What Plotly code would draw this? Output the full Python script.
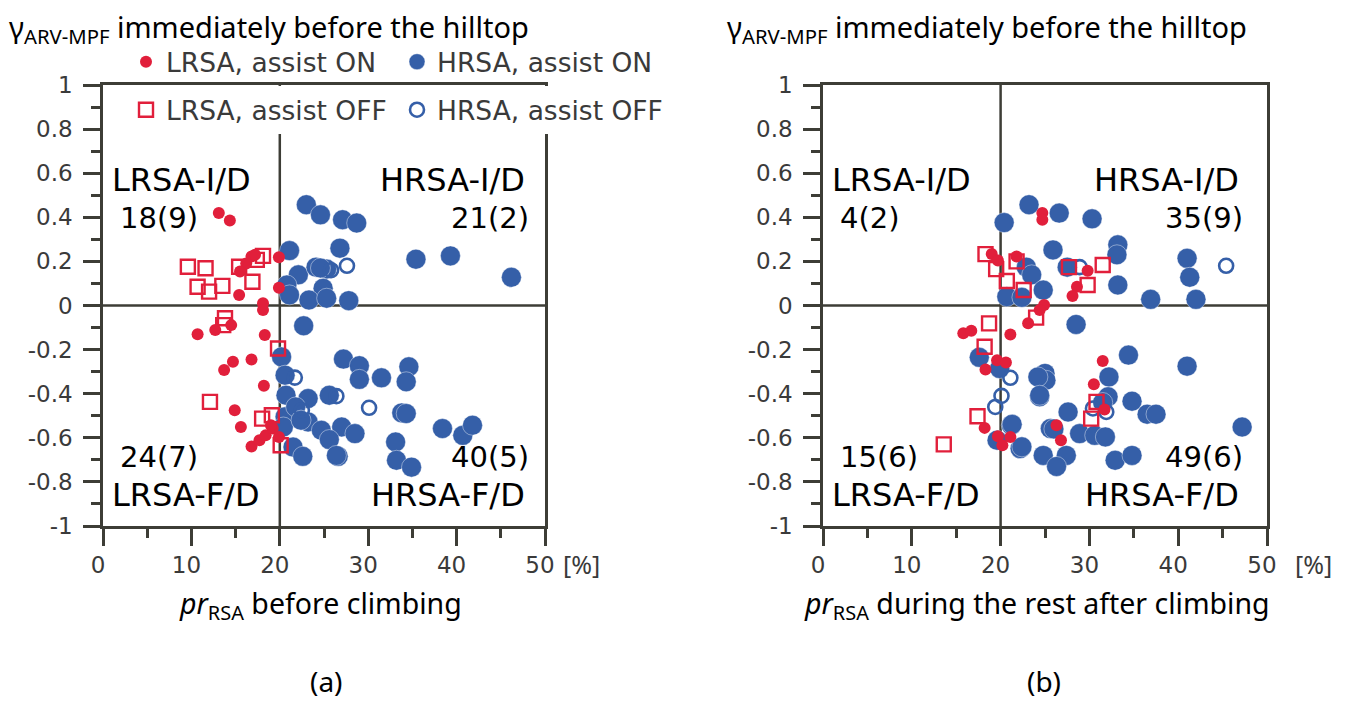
import plotly.graph_objects as go

# ---------------- data ----------------
# Panel (a): pr_RSA before climbing [%] vs gamma
a_lrsa_on_x = [13.1, 14.35, 16.8, 16.2, 17.2, 15.5, 15.4, 18.1, 19.9, 19.9,
               18.1, 14.5, 12.7, 10.7, 18.3, 14.7, 13.7, 16.8, 18.2, 14.9,
               15.6, 16.8, 17.7, 18.4, 19.2, 19.9, 19.0]
a_lrsa_on_y = [0.419, 0.385, 0.222, 0.19, 0.23, 0.154, 0.048, 0.01, 0.219, 0.081,
               -0.02, -0.089, -0.111, -0.13, -0.134, -0.255, -0.293, -0.245, -0.364, -0.475,
               -0.551, -0.639, -0.611, -0.589, -0.558, -0.596, -0.543]

a_lrsa_off_x = [9.6, 11.6, 10.7, 12.0, 13.5, 15.4, 16.9, 18.1, 17.4,
                13.8, 13.6, 19.8, 12.1, 18.0, 19.1, 20.1]
a_lrsa_off_y = [0.176, 0.169, 0.085, 0.063, 0.089, 0.176, 0.108, 0.225, 0.207,
                -0.058, -0.089, -0.195, -0.437, -0.513, -0.498, -0.634]

a_hrsa_on_x = [23.0, 24.6, 27.1, 28.7, 21.1, 26.8, 35.4, 39.3, 46.2, 22.1,
               24.1, 25.3, 24.9, 20.8, 21.1, 23.3, 25.3, 27.8, 24.6,
               22.7, 20.2, 27.2, 29.0, 29.0, 31.5, 34.6, 34.3, 20.6, 25.6,
               20.7, 23.2, 20.6, 23.2, 20.4, 24.7, 27.0, 28.5, 25.6, 33.8,
               34.3, 38.4, 40.7, 41.8, 33.1, 21.5, 22.6, 26.6, 33.2, 34.9,
               21.8, 22.4, 26.4]
a_hrsa_on_y = [0.457, 0.411, 0.389, 0.374, 0.249, 0.26, 0.21, 0.225, 0.128, 0.139,
               0.174, 0.165, 0.078, 0.093, 0.048, 0.025, 0.033, 0.022, 0.17,
               -0.092, -0.233, -0.243, -0.273, -0.335, -0.328, -0.278, -0.346, -0.316, -0.407,
               -0.407, -0.422, -0.505, -0.528, -0.551, -0.566, -0.551, -0.581, -0.608, -0.487,
               -0.49, -0.558, -0.589, -0.543, -0.619, -0.642, -0.684, -0.684, -0.702, -0.733,
               -0.46, -0.52, -0.68]

a_hrsa_off_x = [27.6, 25.8, 21.7, 26.4, 30.1, 22.5]
a_hrsa_off_y = [0.18, 0.16, -0.327, -0.411, -0.464, -0.475]

# Panel (b): pr_RSA during the rest after climbing [%] vs gamma
b_lrsa_on_x = [24.7, 24.7, 19.0, 19.7, 21.8, 29.8, 28.6, 28.1, 24.9, 24.4,
               23.1, 21.1, 31.5, 30.5, 31.7, 26.3, 26.8, 15.8, 16.7, 19.6,
               20.6, 18.3, 18.2, 19.7, 21.1, 20.2]
b_lrsa_on_y = [0.419, 0.389, 0.234, 0.204, 0.222, 0.158, 0.085, 0.043, 0.002, -0.02,
               -0.081, -0.131, -0.252, -0.357, -0.472, -0.543, -0.611, -0.126, -0.114, -0.248,
               -0.258, -0.29, -0.555, -0.593, -0.596, -0.634]

b_lrsa_off_x = [18.3, 19.5, 21.8, 22.6, 20.7, 27.7, 31.5, 29.8, 24.0, 18.7,
                18.2, 17.4, 13.6, 30.8, 30.2]
b_lrsa_off_y = [0.233, 0.165, 0.2, 0.07, 0.111, 0.174, 0.184, 0.093, -0.055, -0.081,
                -0.187, -0.502, -0.63, -0.437, -0.513]

b_hrsa_on_x = [23.2, 20.4, 26.6, 30.3, 25.9, 33.2, 33.1, 41.0, 41.3, 33.2,
               36.9, 42.0, 27.5, 22.9, 23.5, 24.8, 20.7, 22.4, 28.5, 34.4,
               41.0, 25.0, 25.1, 32.2, 24.4, 32.1, 34.8, 36.5, 37.5, 47.2,
               50.9, 27.6, 25.6, 28.9, 30.6, 31.8, 24.8, 27.4, 26.3, 32.9,
               34.8, 22.2, 21.2, 17.6, 19.9, 24.2, 24.4, 21.3, 19.6, 22.4,
               26.0, 31.5]
b_hrsa_on_y = [0.457, 0.376, 0.419, 0.393, 0.252, 0.275, 0.23, 0.214, 0.128, 0.093,
               0.028, 0.028, 0.174, 0.174, 0.139, 0.07, 0.04, 0.037, -0.086, -0.225,
               -0.275, -0.308, -0.339, -0.324, -0.414, -0.414, -0.434, -0.493, -0.493, -0.551,
               -0.33, -0.483, -0.558, -0.581, -0.589, -0.596, -0.68, -0.68, -0.73, -0.702,
               -0.68, -0.649, -0.543, -0.235, -0.286, -0.324, -0.407, -0.539, -0.611, -0.641,
               -0.56, -0.44]

b_hrsa_off_x = [45.4, 28.9, 21.1, 20.1, 19.4, 30.4, 31.9]
b_hrsa_off_y = [0.18, 0.174, -0.328, -0.41, -0.46, -0.467, -0.483]

# axes ticks
x_tickvals = [0, 10, 20, 30, 40, 50]
x_ticktext = ["0", "10", "20", "30", "40", "50"]
y_tickvals = [1, 0.8, 0.6, 0.4, 0.2, 0, -0.2, -0.4, -0.6, -0.8, -1]
y_ticktext = ["1", "0.8", "0.6", "0.4", "0.2", "0", "-0.2", "-0.4", "-0.6", "-0.8", "-1"]

# quadrant labels: names and counts per panel (I/D upper, F/D lower)
a_quad_names = ["LRSA-I/D", "HRSA-I/D", "LRSA-F/D", "HRSA-F/D"]
a_quad_counts = ["18(9)", "21(2)", "24(7)", "40(5)"]
b_quad_names = ["LRSA-I/D", "HRSA-I/D", "LRSA-F/D", "HRSA-F/D"]
b_quad_counts = ["4(2)", "35(9)", "15(6)", "49(6)"]

legend_names = ["LRSA, assist ON", "HRSA, assist ON", "LRSA, assist OFF", "HRSA, assist OFF"]

# ---------------- styling ----------------
# the page body adds an 8px margin; positions below are given in window pixels
OFF = 8
W, H = 1340, 695
def PX(p): return (p - OFF) / W
def PY(p): return 1 - (p - OFF) / H

RED = "#e11f3b"
BLUE = "#355fa8"
AX = "#3d3d36"
TXT = "#3a3a3a"
TICKFONT = dict(family="DejaVu Sans", size=23, color=TXT)
QNAMEFONT = dict(family="DejaVu Sans", size=32, color="black")
QNUMFONT = dict(family="DejaVu Sans", size=29, color="black")
TFONT = dict(family="Noto Sans", size=29, color="black")
XTFONT = dict(family="Noto Sans", size=28.5, color="black")
PANELFONT = dict(family="Noto Sans", size=28, color="black")

fig = go.Figure()

def add_panel(xa, ya, lon, loff, hon, hoff, show):
    fig.add_trace(go.Scatter(x=hon[0], y=hon[1], mode="markers", xaxis=xa, yaxis=ya,
                             name=legend_names[1], legend="legend2", showlegend=show,
                             marker=dict(symbol="circle", size=20, color=BLUE,
                                         line=dict(width=0.6, color="rgba(255,255,255,0.7)")),
                             cliponaxis=False))
    fig.add_trace(go.Scatter(x=hoff[0], y=hoff[1], mode="markers", xaxis=xa, yaxis=ya,
                             name=legend_names[3], legend="legend4", showlegend=show,
                             marker=dict(symbol="circle-open", size=14, color=BLUE,
                                         line=dict(width=2.6, color=BLUE)),
                             cliponaxis=False))
    fig.add_trace(go.Scatter(x=loff[0], y=loff[1], mode="markers", xaxis=xa, yaxis=ya,
                             name=legend_names[2], legend="legend3", showlegend=show,
                             marker=dict(symbol="square-open", size=14, color=RED,
                                         line=dict(width=2.4, color=RED)),
                             cliponaxis=False))
    fig.add_trace(go.Scatter(x=lon[0], y=lon[1], mode="markers", xaxis=xa, yaxis=ya,
                             name=legend_names[0], legend="legend", showlegend=show,
                             marker=dict(symbol="circle", size=12, color=RED, line=dict(width=0)),
                             cliponaxis=False))

add_panel("x", "y", (a_lrsa_on_x, a_lrsa_on_y), (a_lrsa_off_x, a_lrsa_off_y),
          (a_hrsa_on_x, a_hrsa_on_y), (a_hrsa_off_x, a_hrsa_off_y), True)
add_panel("x2", "y2", (b_lrsa_on_x, b_lrsa_on_y), (b_lrsa_off_x, b_lrsa_off_y),
          (b_hrsa_on_x, b_hrsa_on_y), (b_hrsa_off_x, b_hrsa_off_y), False)

def xaxis(domain, anchor):
    return dict(domain=domain, anchor=anchor, range=[0, 50], tickmode="array",
                tickvals=x_tickvals, ticktext=x_ticktext, ticks="outside", ticklen=17,
                tickwidth=2.5, tickcolor=AX, showline=True, linecolor=AX, linewidth=2.5,
                mirror=True, showgrid=False, zeroline=False, tickfont=TICKFONT,
                automargin=False, ticklabelshift=-5,
                minor=dict(tick0=0, dtick=5, ticks="outside", ticklen=9, tickwidth=2.5,
                           tickcolor=AX, showgrid=False))

def yaxis(domain, anchor):
    return dict(domain=domain, anchor=anchor, range=[-1, 1], tickmode="array",
                tickvals=y_tickvals, ticktext=y_ticktext, ticks="outside", ticklen=17,
                tickwidth=2.5, tickcolor=AX, showline=True, linecolor=AX, linewidth=2.5,
                mirror=True, showgrid=False, zeroline=False, tickfont=TICKFONT,
                automargin=False, ticklabelstandoff=6,
                minor=dict(tick0=0, dtick=0.1, ticks="outside", ticklen=9, tickwidth=2.5,
                           tickcolor=AX, showgrid=False))

ydom = [PY(526), PY(85)]
legend_base = dict(orientation="h", xanchor="left", yanchor="middle", borderwidth=0,
                   font=dict(family="DejaVu Sans", size=26.5, color=TXT), itemsizing="trace")

fig.update_layout(
    width=W, height=H, autosize=False,
    margin=dict(l=0, r=0, t=0, b=0, pad=0, autoexpand=False),
    paper_bgcolor="white", plot_bgcolor="white",
    xaxis=xaxis([PX(103), PX(545)], "y"),
    yaxis=yaxis(ydom, "x"),
    xaxis2=xaxis([PX(823), PX(1267)], "y2"),
    yaxis2=yaxis(ydom, "x2"),
    legend=dict(legend_base, x=PX(126), y=PY(62), bgcolor="rgba(0,0,0,0)"),
    legend2=dict(legend_base, x=PX(397), y=PY(62), bgcolor="rgba(0,0,0,0)"),
    legend3=dict(legend_base, x=PX(126), y=PY(110), bgcolor="white"),
    legend4=dict(legend_base, x=PX(397), y=PY(110), bgcolor="white"),
)

shapes = []
for xr, yr in (("x", "y"), ("x2", "y2")):
    shapes.append(dict(type="line", xref=xr, yref=yr, x0=20, x1=20, y0=-1, y1=1,
                       line=dict(color=AX, width=2.5), layer="below"))
    shapes.append(dict(type="line", xref=xr, yref=yr, x0=0, x1=50, y0=0, y1=0,
                       line=dict(color=AX, width=2.5), layer="below"))
fig.update_layout(shapes=shapes)

ann = []
def quad(names, counts, left, right):
    specs = [
        (names[0], QNAMEFONT, left, 180, "left"),
        (counts[0], QNUMFONT, left + 8, 218, "left"),
        (names[1], QNAMEFONT, right - 3, 180, "right"),
        (counts[1], QNUMFONT, right + 1, 218, "right"),
        (counts[2], QNUMFONT, left + 8, 457, "left"),
        (names[2], QNAMEFONT, left, 495, "left"),
        (counts[3], QNUMFONT, right + 1, 457, "right"),
        (names[3], QNAMEFONT, right - 3, 495, "right"),
    ]
    for t, f, xp, yp, xa in specs:
        ann.append(dict(text=t, x=PX(xp), y=PY(yp), xref="paper", yref="paper",
                        xanchor=xa, yanchor="middle", showarrow=False, font=f))
quad(a_quad_names, a_quad_counts, 110, 530)
quad(b_quad_names, b_quad_counts, 830, 1244)

title_txt = "γ<sub>ARV-MPF</sub> immediately before the hilltop"
for xpos in (7, 725):
    ann.append(dict(text=title_txt, x=PX(xpos), y=PY(28), xref="paper", yref="paper",
                    xanchor="left", yanchor="middle", showarrow=False, font=TFONT))
ann.append(dict(text="<i>pr</i><sub>RSA</sub> before climbing", x=PX(320), y=PY(605),
                xref="paper", yref="paper", xanchor="center", yanchor="middle",
                showarrow=False, font=XTFONT))
ann.append(dict(text="<i>pr</i><sub>RSA</sub> during the rest after climbing", x=PX(1037), y=PY(605),
                xref="paper", yref="paper", xanchor="center", yanchor="middle",
                showarrow=False, font=XTFONT))
for xpos in (561, 1293):
    ann.append(dict(text="[%]", x=PX(xpos), y=PY(564), xref="paper", yref="paper",
                    xanchor="left", yanchor="middle", showarrow=False,
                    font=dict(family="Noto Sans", size=25, color=TXT)))
ann.append(dict(text="(a)", x=PX(326), y=PY(681), xref="paper", yref="paper",
                xanchor="center", yanchor="middle", showarrow=False, font=PANELFONT))
ann.append(dict(text="(b)", x=PX(1044), y=PY(681), xref="paper", yref="paper",
                xanchor="center", yanchor="middle", showarrow=False, font=PANELFONT))
fig.update_layout(annotations=ann)

fig.write_html("out.html")
